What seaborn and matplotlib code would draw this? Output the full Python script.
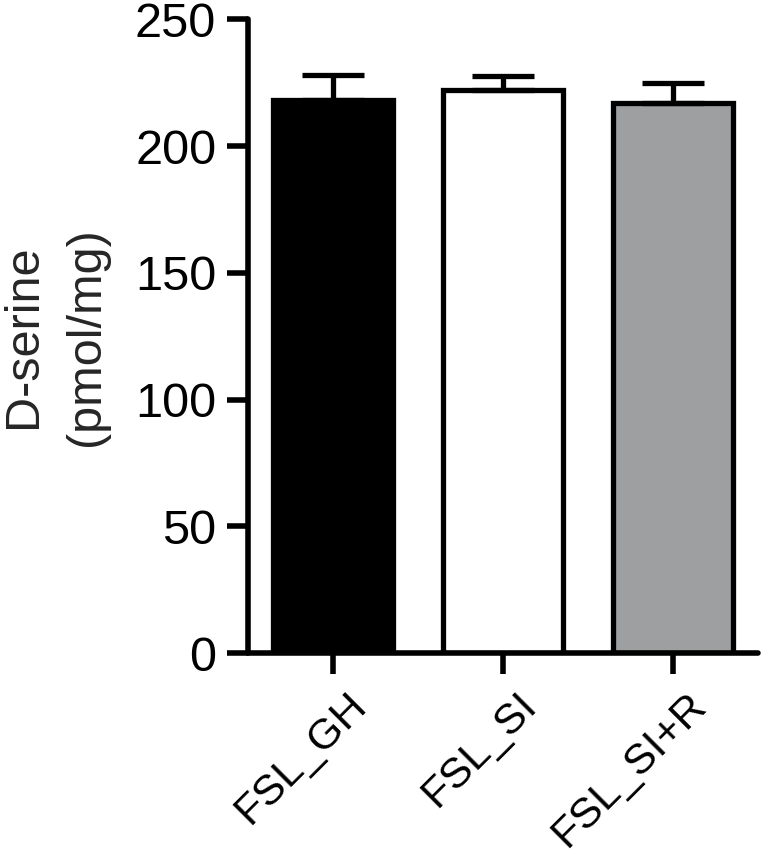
import numpy as np
import seaborn as sns
import matplotlib.pyplot as plt
import matplotlib.transforms as mtransforms

# Dados
grupos = ["FSL_GH", "FSL_SI", "FSL_SI+R"]
medias = [218, 222, 217]
erros = [10, 5.5, 7.7]
cores = ["#000000", "#ffffff", "#9d9fa0"]

sns.set_theme(style="ticks")
plt.rcParams["font.family"] = ["Liberation Sans", "DejaVu Sans"]

fig = plt.figure(figsize=(7.61, 8.56), dpi=100)
ax = fig.add_axes([0.326, 0.237, 0.67, 0.7405])

sns.barplot(x=grupos, y=medias, hue=grupos, palette=cores, legend=False,
            edgecolor="black", linewidth=3.8, width=0.706, ax=ax,
            errorbar=None, saturation=1)

# Barras de erro (somente para cima)
ax.errorbar(range(len(grupos)), medias, yerr=[np.zeros(len(erros)), erros],
            fmt="none", ecolor="black", elinewidth=3.8, capsize=22,
            capthick=3.8, zorder=1)

ax.set_ylim(0, 250)
ax.set_xlim(-0.5, 2.5)
ax.set_yticks([0, 50, 100, 150, 200, 250])
ax.set_ylabel("D-serine\n(pmol/mg)", fontsize=35, labelpad=19,
              linespacing=1.5)
ax.set_xlabel("")

for s in ["top", "right"]:
    ax.spines[s].set_visible(False)
for s in ["left", "bottom"]:
    ax.spines[s].set_linewidth(4)
    ax.spines[s].set_color("black")
    ax.spines[s].set_capstyle("round")

ax.tick_params(axis="both", width=4, length=15, color="black",
               labelsize=35, pad=8, labelcolor="black")

desloc = mtransforms.ScaledTranslation(13 / 100, 0, fig.dpi_scale_trans)
for lbl in ax.get_xticklabels():
    lbl.set_fontsize(31)
    lbl.set_rotation(45)
    lbl.set_ha("right")
    lbl.set_rotation_mode("anchor")
    lbl.set_transform(lbl.get_transform() + desloc)

fig.savefig("out.png", dpi=100)
